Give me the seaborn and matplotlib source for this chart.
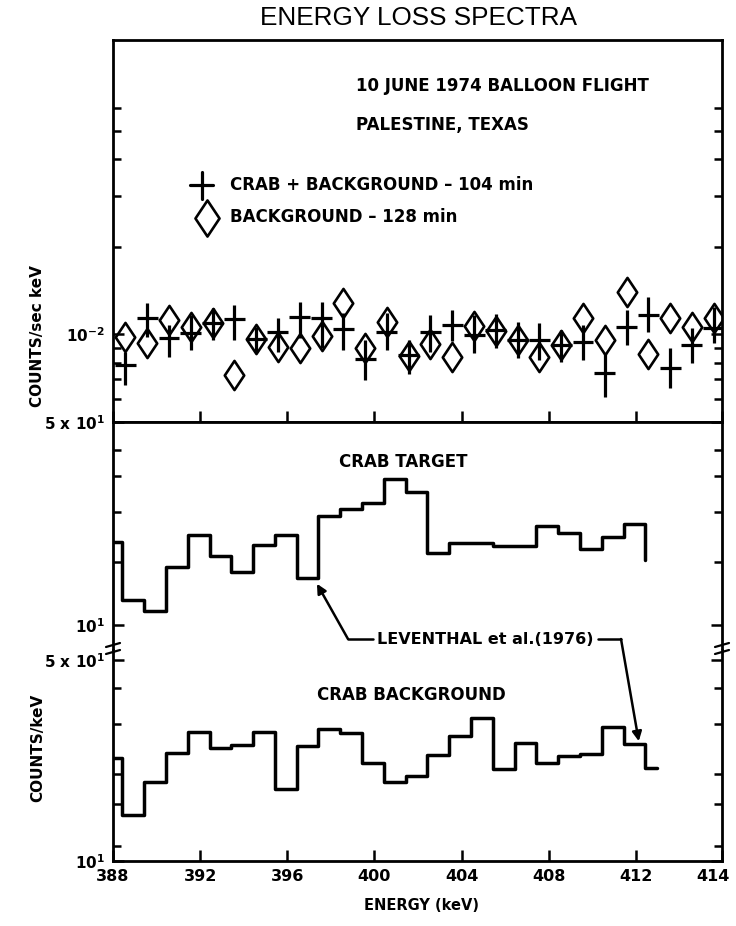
import matplotlib
matplotlib.use("Agg")
import matplotlib.pyplot as plt
from matplotlib.path import Path
from matplotlib.lines import Line2D
from matplotlib.transforms import ScaledTranslation
from matplotlib.ticker import FixedLocator, FixedFormatter, NullFormatter
import pandas as pd
import seaborn as sns

# ---------------- data ----------------
# point spectra (counts / sec keV), one value per 1 keV channel
point_energy = [388.57, 389.57, 390.57, 391.57, 392.57, 393.57, 394.57, 395.57,
                396.57, 397.57, 398.57, 399.57, 400.57, 401.57, 402.57, 403.57,
                404.57, 405.57, 406.57, 407.57, 408.57, 409.57, 410.57, 411.57,
                412.57, 413.57, 414.57, 415.57]
crab_plus_bg = [0.00785, 0.01136, 0.00970, 0.01009, 0.01097, 0.01130, 0.00962, 0.01022,
                0.01145, 0.01136, 0.01044, 0.00821, 0.01022, 0.00850, 0.01022, 0.01077,
                0.00995, 0.01035, 0.00957, 0.00957, 0.00920, 0.00944, 0.00735, 0.01063,
                0.01166, 0.00765, 0.00920, 0.01050]
crab_plus_bg_hi = [0.00872, 0.01285, 0.01077, 0.01166, 0.01233, 0.01262, 0.01063, 0.01139,
                   0.01296, 0.01296, 0.01185, 0.00957, 0.01185, 0.00957, 0.01166, 0.01213,
                   0.01166, 0.01175, 0.01104, 0.01095, 0.01035, 0.01077, 0.00863, 0.01213,
                   0.01345, 0.00898, 0.01052, 0.01242]
crab_plus_bg_lo = [0.00670, 0.00982, 0.00838, 0.00884, 0.00957, 0.00957, 0.00872, 0.00872,
                   0.00970, 0.00896, 0.00884, 0.00697, 0.00884, 0.00731, 0.00870, 0.00949,
                   0.00863, 0.00898, 0.00830, 0.00817, 0.00804, 0.00817, 0.00610, 0.00920,
                   0.01019, 0.00654, 0.00798, 0.00934]
background = [0.00982, 0.00932, 0.01121, 0.01063, 0.01097, 0.00725, 0.00962, 0.00907,
              0.00896, 0.00991, 0.01279, 0.00900, 0.01106, 0.00846, 0.00927, 0.00838,
              0.01069, 0.01027, 0.00957, 0.00838, 0.00920, 0.01136, 0.00957, 0.01402,
              0.00856, 0.01136, 0.01063, 0.01139]

# histogram spectra (counts / keV): left bin edges and bin contents
target_edges = [388.0, 388.43, 389.43, 390.43, 391.43, 392.43, 393.43, 394.43, 395.43,
                396.43, 397.43, 398.43, 399.43, 400.43, 401.43, 402.43, 403.43, 404.43,
                405.43, 406.43, 407.43, 408.43, 409.43, 410.43, 411.43, 412.43]
crab_target = [19.4, 12.2, 11.2, 15.9, 20.4, 17.3, 15.3, 18.9, 20.4, 14.5, 23.8, 25.1,
               26.3, 31.8, 28.7, 17.8, 19.2, 19.2, 18.8, 18.8, 22.0, 20.7, 18.3, 20.1,
               22.3, 16.8]

background_edges = [388.0, 388.43, 389.43, 390.43, 391.43, 392.43, 393.43, 394.43, 395.43,
                    396.43, 397.43, 398.43, 399.43, 400.43, 401.43, 402.43, 403.43, 404.43,
                    405.43, 406.43, 407.43, 408.43, 409.43, 410.43, 411.43, 412.43, 412.95]
crab_background = [22.9, 14.4, 18.9, 23.8, 28.0, 24.8, 25.3, 28.0, 17.8, 25.2, 28.9, 27.8,
                   21.9, 18.9, 19.8, 23.4, 27.2, 31.4, 20.9, 25.7, 21.9, 23.2, 23.6, 29.2,
                   25.5, 21.1, 21.1]

x_tick_pos = [388, 392, 396, 400, 404, 408, 412, 415.95]
x_tick_labels = ["388", "392", "396", "400", "404", "408", "412", "414"]

# ---------------- style ----------------
sns.set_style("ticks")
plt.rcParams["font.family"] = ["DejaVu Sans"]
plt.rcParams["font.weight"] = "bold"
plt.rcParams["mathtext.default"] = "regular"
for key in ("text.color", "axes.labelcolor", "xtick.color", "ytick.color",
            "axes.edgecolor"):
    plt.rcParams[key] = "black"

W, H = 736, 926
fig = plt.figure(figsize=(W / 100, H / 100), dpi=100)


def fx(px):
    return px / W


def fy(py):
    return 1 - py / H


LEFT, RIGHT = 113, 722
width = (RIGHT - LEFT) / W
ax_top = fig.add_axes([fx(LEFT), fy(422), width, (422 - 40) / H])
ax_mid = fig.add_axes([fx(LEFT), fy(650), width, (650 - 422) / H])
ax_bot = fig.add_axes([fx(LEFT), fy(861), width, (861 - 650) / H])

SPINE_W = 2.0
for ax in (ax_top, ax_mid, ax_bot):
    ax.set_xlim(388, 415.95)
    ax.set_yscale("log")
    for s in ax.spines.values():
        s.set_linewidth(SPINE_W)
        s.set_visible(True)
        s.set_color("black")
    ax.tick_params(which="both", direction="in", left=True, right=True,
                   bottom=True, top=False, width=1.8, colors="black",
                   labelsize=11, pad=6)
    ax.tick_params(which="major", length=8)
    ax.tick_params(which="minor", length=6)
    ax.xaxis.set_major_locator(FixedLocator(x_tick_pos))
    ax.xaxis.set_minor_locator(FixedLocator([]))

ax_top.set_ylim(0.005, 0.1027)
ax_mid.set_ylim(8.23, 50)
ax_bot.set_ylim(10, 54.2)

ax_mid.spines["bottom"].set_visible(False)
ax_mid.tick_params(axis="x", bottom=False)
ax_bot.spines["top"].set_visible(False)

for ax in (ax_top, ax_mid):
    ax.xaxis.set_major_formatter(NullFormatter())
ax_bot.xaxis.set_major_formatter(FixedFormatter(x_tick_labels))
ax_bot.tick_params(axis="x", labelsize=11.5)

# y ticks
ax_top.yaxis.set_major_locator(FixedLocator([0.01]))
ax_top.yaxis.set_major_formatter(FixedFormatter(["10$^{-2}$"]))
ax_top.yaxis.set_minor_locator(FixedLocator([0.006, 0.007, 0.008, 0.009,
                                             0.02, 0.03, 0.04, 0.05, 0.06]))
ax_top.yaxis.set_minor_formatter(NullFormatter())

ax_mid.yaxis.set_major_locator(FixedLocator([10, 50]))
ax_mid.yaxis.set_major_formatter(FixedFormatter(["10$^1$", "5 x 10$^1$"]))
ax_mid.yaxis.set_minor_locator(FixedLocator([16.5, 24.5, 32.5, 40]))
ax_mid.yaxis.set_minor_formatter(NullFormatter())

ax_bot.yaxis.set_major_locator(FixedLocator([10, 50]))
ax_bot.yaxis.set_major_formatter(FixedFormatter(["10$^1$", "5 x 10$^1$"]))
ax_bot.yaxis.set_minor_locator(FixedLocator([11.3, 15.8, 20, 30, 40]))
ax_bot.yaxis.set_minor_formatter(NullFormatter())

# ---------------- marks ----------------
diamond = Path([(0, 1.5), (1, 0), (0, -1.5), (-1, 0), (0, 1.5)],
               [Path.MOVETO, Path.LINETO, Path.LINETO, Path.LINETO, Path.CLOSEPOLY])

yerr = [[c - lo for c, lo in zip(crab_plus_bg, crab_plus_bg_lo)],
        [hi - c for c, hi in zip(crab_plus_bg, crab_plus_bg_hi)]]
ax_top.plot(point_energy, background, ls="none", marker=diamond, ms=21,
            mfc="none", mec="black", mew=1.9, zorder=3)
ax_top.errorbar(point_energy, crab_plus_bg, yerr=yerr, xerr=0.48, fmt="none",
                ecolor="black", elinewidth=2.3, capsize=0, zorder=4)

target_df = pd.DataFrame({"energy": target_edges, "counts": crab_target})
bg_df = pd.DataFrame({"energy": background_edges, "counts": crab_background})
sns.lineplot(data=target_df, x="energy", y="counts", ax=ax_mid, estimator=None,
             sort=False, drawstyle="steps-post", color="black", lw=2.5)
sns.lineplot(data=bg_df, x="energy", y="counts", ax=ax_bot, estimator=None,
             sort=False, drawstyle="steps-post", color="black", lw=2.5)
for ax in (ax_top, ax_mid, ax_bot):
    ax.set_xlabel("")
    ax.set_ylabel("")
    for lab in ax.get_yticklabels() + ax.get_xticklabels():
        lab.set_fontweight("bold")
        lab.set_color("black")

# pull the last energy label inside the figure edge
last = ax_bot.get_xticklabels()[-1]
last.set_transform(last.get_transform()
                   + ScaledTranslation(-9 / 100, 0, fig.dpi_scale_trans))

# axis break marks between the two histogram panels
for xc in (LEFT, RIGHT):
    for yc in (645, 652):
        fig.add_artist(Line2D([fx(xc - 7), fx(xc + 7)], [fy(yc + 2), fy(yc - 2)],
                              transform=fig.transFigure, color="black", lw=1.6))

# ---------------- text ----------------
fig.text(fx(418), fy(18), "ENERGY LOSS SPECTRA", ha="center", va="center",
         fontsize=18.8, fontweight="normal", family="Liberation Sans")
fig.text(fx(356), fy(86), "10 JUNE 1974 BALLOON FLIGHT", ha="left", va="center",
         fontsize=12, fontweight="bold")
fig.text(fx(356), fy(125), "PALESTINE, TEXAS", ha="left", va="center",
         fontsize=12, fontweight="bold")

# legend
fig.add_artist(Line2D([fx(190), fx(213)], [fy(185), fy(185)],
                      transform=fig.transFigure, color="black", lw=2.3))
fig.add_artist(Line2D([fx(202), fx(202)], [fy(172), fy(199)],
                      transform=fig.transFigure, color="black", lw=2.3))
fig.add_artist(Line2D([fx(207)], [fy(218)], transform=fig.transFigure, ls="none",
                      marker=diamond, ms=26, mfc="none", mec="black", mew=1.9))
fig.text(fx(230), fy(185), "CRAB + BACKGROUND \u2013 104 min", ha="left",
         va="center", fontsize=12, fontweight="bold")
fig.text(fx(230), fy(217), "BACKGROUND \u2013 128 min", ha="left",
         va="center", fontsize=12, fontweight="bold")

fig.text(fx(403), fy(462), "CRAB TARGET", ha="center", va="center",
         fontsize=12, fontweight="bold")
fig.text(fx(411), fy(695), "CRAB BACKGROUND", ha="center", va="center",
         fontsize=12, fontweight="bold")
fig.text(fx(377), fy(639), "LEVENTHAL et al.(1976)", ha="left", va="center",
         fontsize=11.5, fontweight="bold")

# pointers from the reference label to the two spectra
fig.add_artist(Line2D([fx(373), fx(348)], [fy(639), fy(639)],
                      transform=fig.transFigure, color="black", lw=1.8))
fig.add_artist(Line2D([fx(598), fx(621)], [fy(639), fy(639)],
                      transform=fig.transFigure, color="black", lw=1.8))
arrow = dict(arrowstyle="-|>", color="black", lw=1.8, mutation_scale=14,
             shrinkA=0, shrinkB=0)
ax_mid.annotate("", xy=(397.36, 13.9), xycoords="data",
                xytext=(348, H - 639), textcoords="figure pixels",
                arrowprops=arrow, annotation_clip=False)
ax_bot.annotate("", xy=(412.13, 26.1), xycoords="data",
                xytext=(621, H - 639), textcoords="figure pixels",
                arrowprops=arrow, annotation_clip=False)

fig.text(fx(38), fy(336), "COUNTS/sec keV", rotation=90, ha="center",
         va="center", fontsize=11, fontweight="bold")
fig.text(fx(38), fy(748), "COUNTS/keV", rotation=90, ha="center",
         va="center", fontsize=11, fontweight="bold")
fig.text(fx(421), fy(906), "ENERGY (keV)", ha="center", va="center",
         fontsize=10.5, fontweight="bold")

fig.savefig("out.png", dpi=100)
